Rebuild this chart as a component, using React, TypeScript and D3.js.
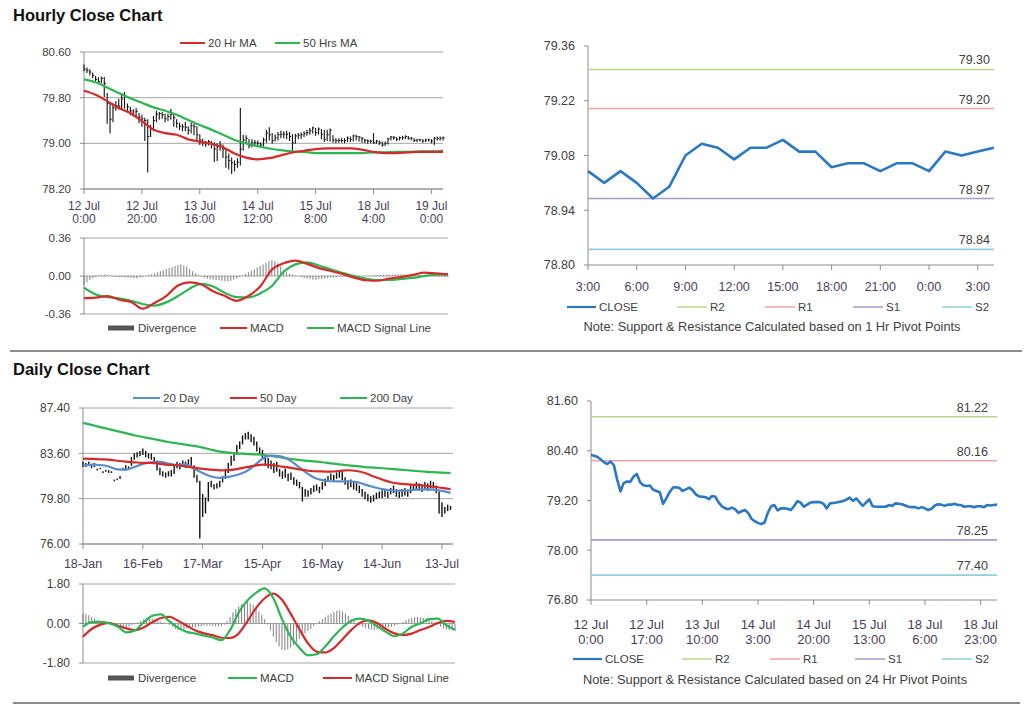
import React from "react";
import * as d3 from "d3";

// ===================== HOURLY DATA (index 0 = 12 Jul 0:00, one point per trading hour) =====================
const hourlyClose = [
  80.30, 80.28, 80.25, 80.19, 80.12, 80.08, 80.14, 80.05, 79.70, 79.42,
  79.62, 79.66, 79.65, 79.78, 79.84, 79.64, 79.57, 79.55, 79.56, 79.46,
  79.43, 79.40, 79.12, 79.25, 79.40, 79.51, 79.52, 79.50, 79.43, 79.47,
  79.51, 79.45, 79.35, 79.30, 79.29, 79.28, 79.23, 79.31, 79.29, 79.15,
  79.06, 79.01, 78.99, 79.03, 78.99, 78.90, 78.94, 78.97, 78.90, 78.76,
  78.70, 78.66, 78.63, 78.67, 78.90, 79.06, 79.09, 78.96, 79.01, 79.01,
  79.00, 78.97, 79.06, 79.18, 79.15, 79.05, 79.10, 79.15, 79.16, 79.16,
  79.16, 79.12, 79.01, 79.13, 79.14, 79.15, 79.17, 79.19, 79.22, 79.27,
  79.19, 79.25, 79.16, 79.07, 79.15, 79.23, 79.06, 79.05, 79.05, 79.05,
  79.05, 79.09, 79.07, 79.13, 79.12, 79.11, 79.08, 79.05, 79.04, 79.04,
  79.01, 79.04, 79.01, 78.97, 79.00, 79.08, 79.11, 79.10, 79.07, 79.10,
  79.10, 79.12, 79.09, 79.09, 79.05, 79.06, 79.06, 79.04, 79.06, 79.06,
  79.04, 79.09, 79.08, 79.09, 79.10,
];
const hourlyHigh = [
  80.38, 80.33, 80.30, 80.24, 80.18, 80.16, 80.17, 80.16, 79.88, 79.72,
  79.70, 79.74, 79.78, 79.88, 79.90, 79.70, 79.64, 79.60, 79.62, 79.53,
  79.50, 79.45, 79.42, 79.32, 79.48, 79.57, 79.55, 79.55, 79.52, 79.52,
  79.60, 79.52, 79.42, 79.36, 79.34, 79.38, 79.30, 79.36, 79.34, 79.30,
  79.16, 79.08, 79.04, 79.06, 79.04, 79.02, 79.00, 79.04, 78.98, 78.92,
  78.82, 78.75, 78.70, 78.74, 79.62, 79.15, 79.14, 79.08, 79.07, 79.06,
  79.05, 79.02, 79.10, 79.24, 79.28, 79.18, 79.16, 79.20, 79.22, 79.21,
  79.22, 79.20, 79.16, 79.17, 79.18, 79.19, 79.21, 79.24, 79.27, 79.29,
  79.27, 79.28, 79.25, 79.24, 79.24, 79.26, 79.14, 79.09, 79.09, 79.10,
  79.09, 79.12, 79.12, 79.15, 79.15, 79.13, 79.11, 79.08, 79.07, 79.06,
  79.18, 79.06, 79.05, 79.03, 79.03, 79.10, 79.13, 79.13, 79.11, 79.12,
  79.13, 79.14, 79.13, 79.11, 79.09, 79.08, 79.08, 79.07, 79.08, 79.08,
  79.07, 79.11, 79.12, 79.12, 79.12,
];
const hourlyLow = [
  80.27, 80.24, 80.20, 80.15, 80.10, 80.05, 80.06, 79.82, 79.35, 79.18,
  79.38, 79.58, 79.60, 79.62, 79.62, 79.55, 79.50, 79.48, 79.45, 79.36,
  79.30, 79.05, 78.50, 79.12, 79.22, 79.38, 79.42, 79.44, 79.38, 79.40,
  79.42, 79.30, 79.28, 79.24, 79.22, 79.22, 79.16, 79.18, 79.15, 79.05,
  78.98, 78.96, 78.95, 78.97, 78.92, 78.68, 78.70, 78.88, 78.75, 78.58,
  78.55, 78.47, 78.52, 78.58, 78.62, 78.88, 79.00, 78.92, 78.94, 78.96,
  78.95, 78.93, 78.96, 79.02, 79.06, 79.00, 79.04, 79.06, 79.10, 79.10,
  79.08, 79.05, 78.88, 79.00, 79.08, 79.09, 79.12, 79.14, 79.16, 79.18,
  79.14, 79.16, 79.08, 79.03, 79.05, 79.04, 79.02, 79.01, 79.02, 79.02,
  79.01, 79.03, 79.03, 79.04, 79.06, 79.04, 79.02, 79.01, 79.00, 79.01,
  79.00, 79.00, 78.98, 78.95, 78.96, 78.99, 79.06, 79.07, 79.05, 79.06,
  79.07, 79.08, 79.07, 79.06, 79.03, 79.03, 79.04, 79.02, 79.03, 79.04,
  79.01, 78.98, 79.06, 79.06, 79.06,
];
// moving averages and MACD lines, one value every HOURLY_STEP hours
const HOURLY_STEP = 4;
const hourlyMa20 = [
  79.92, 79.85, 79.74, 79.62, 79.53, 79.39, 79.24, 79.18, 79.15, 79.07,
  79.03, 78.99, 78.93, 78.82, 78.75, 78.72, 78.74, 78.79, 78.84, 78.87,
  78.90, 78.91, 78.91, 78.91, 78.89, 78.85, 78.83, 78.83, 78.84, 78.85,
  78.85, 78.85,
];
const hourlyMa50 = [
  80.12, 80.07, 79.98, 79.88, 79.79, 79.71, 79.63, 79.57, 79.50, 79.41,
  79.32, 79.24, 79.15, 79.06, 79.00, 78.95, 78.91, 78.88, 78.86, 78.85,
  78.83, 78.83, 78.83, 78.83, 78.83, 78.84, 78.84, 78.85, 78.85, 78.86,
  78.86, 78.87,
];
const hourlyMacd = [
  -0.21, -0.205, -0.19, -0.225, -0.245, -0.31, -0.255, -0.19, -0.09, -0.06,
  -0.08, -0.145, -0.19, -0.235, -0.19, -0.10, 0.06, 0.12, 0.145, 0.115,
  0.075, 0.048, 0.02, -0.015, -0.04, -0.045, -0.024, -0.01, 0.01, 0.032,
  0.024, 0.016,
];
const hourlySignal = [
  -0.11, -0.175, -0.20, -0.212, -0.235, -0.265, -0.28, -0.25, -0.19, -0.12,
  -0.074, -0.10, -0.16, -0.20, -0.203, -0.165, -0.095, 0.04, 0.11, 0.13,
  0.10, 0.064, 0.03, 0.0, -0.025, -0.038, -0.038, -0.028, -0.018, 0.002,
  0.012, 0.016,
];
const hourlyDivergence = [
  -0.085, -0.06, -0.04, -0.025, -0.012, 0.005, 0.01, 0.012, 0.008, 0.004,
  -0.005, -0.01, -0.012, -0.01, -0.014, -0.015, -0.018, -0.02, -0.022, -0.015,
  -0.008, 0.0, 0.008, 0.015, 0.025, 0.035, 0.045, 0.055, 0.065, 0.075,
  0.085, 0.095, 0.105, 0.11, 0.1, 0.085, 0.065, 0.045, 0.025, 0.01,
  -0.005, -0.015, -0.025, -0.03, -0.035, -0.038, -0.04, -0.045, -0.05, -0.05,
  -0.045, -0.035, -0.025, -0.01, 0.005, 0.02, 0.035, 0.05, 0.065, 0.08,
  0.095, 0.11, 0.125, 0.14, 0.15, 0.14, 0.12, 0.09, 0.06, 0.035,
  0.02, 0.01, 0.005, 0.0, -0.01, -0.02, -0.025, -0.03, -0.035, -0.035,
  -0.03, -0.03, -0.025, -0.02, -0.015, -0.012, -0.01, -0.008, -0.006, -0.005,
  -0.005, -0.004, -0.003, -0.003, -0.002, -0.002, 0.0, 0.002, 0.004, 0.006,
  0.008, 0.01, 0.012, 0.012, 0.012, 0.014, 0.015, 0.016, 0.016, 0.015,
  0.014, 0.013, 0.012, 0.01, 0.008, 0.006, 0.004, 0.002, 0.0, -0.002,
  -0.004, -0.006, -0.008, -0.01, -0.012,
];
const hourlyTickStep = 20;
const hourlyTickLabels = [
  ["12 Jul", "0:00"], ["12 Jul", "20:00"], ["13 Jul", "16:00"], ["14 Jul", "12:00"],
  ["15 Jul", "8:00"], ["18 Jul", "4:00"], ["19 Jul", "0:00"],
];
const hourlyPriceTicks = [78.2, 79.0, 79.8, 80.6];
const hourlyMacdTicks = [-0.36, 0, 0.36];

// last-day (1 hr pivot) view: hours 3:00 .. 3:00
const lastDayStart = 99;
const lastDayEnd = 124;
const lastDayTickStep = 3;
const lastDayTickLabels = ["3:00", "6:00", "9:00", "12:00", "15:00", "18:00", "21:00", "0:00", "3:00"];
const lastDayTicks = [78.8, 78.94, 79.08, 79.22, 79.36];
const pivotNames = ["R2", "R1", "S1", "S2"];
const hourPivotValues = [79.30, 79.20, 78.97, 78.84];

// 24 hr pivot view of the hourly closes
const weekTickStep = 17;
const weekTickLabels = [
  ["12 Jul", "0:00"], ["12 Jul", "17:00"], ["13 Jul", "10:00"], ["14 Jul", "3:00"],
  ["14 Jul", "20:00"], ["15 Jul", "13:00"], ["18 Jul", "6:00"], ["18 Jul", "23:00"],
];
const weekTicks = [76.8, 78.0, 79.2, 80.4, 81.6];
const dayPivotValues = [81.22, 80.16, 78.25, 77.40];

// ===================== DAILY DATA (index 0 = 18-Jan, one point per trading day) =====================
const dailyHigh = [
  82.9, 82.8, 82.9, 82.7, 82.8, 82.3, 82.4, 82.1, 82.2, 82.2,
  82.1, 81.4, 81.5, 81.7, 82.4, 82.6, 82.5, 83.3, 83.6, 83.7,
  83.8, 84.0, 83.8, 83.6, 83.6, 83.3, 83.0, 82.4, 82.1, 82.0,
  82.1, 82.2, 82.6, 82.9, 82.8, 83.0, 82.9, 83.1, 83.3, 82.6,
  81.8, 81.3, 80.2, 79.9, 81.2, 81.3, 81.0, 81.1, 81.3, 81.7,
  82.3, 82.8, 83.4, 83.6, 84.3, 84.6, 85.1, 85.3, 85.4, 85.2,
  85.0, 84.6, 84.1, 83.9, 83.4, 83.2, 83.0, 82.8, 82.9, 82.3,
  82.1, 82.3, 81.9, 82.0, 81.6, 81.4, 81.2, 80.8, 80.6, 80.5,
  80.7, 80.9, 81.0, 80.8, 81.2, 81.5, 81.7, 81.9, 81.8, 82.0,
  82.2, 82.1, 81.6, 81.3, 81.4, 81.2, 81.1, 80.9, 80.6, 80.4,
  80.2, 80.0, 80.1, 80.3, 80.4, 80.5, 80.6, 80.4, 80.7, 80.9,
  80.6, 80.4, 80.6, 80.7, 80.5, 80.9, 81.0, 81.2, 81.1, 81.0,
  81.2, 81.1, 81.3, 81.2, 80.9, 80.4, 79.5, 79.1, 79.3, 79.2,
];
const dailyLow = [
  82.5, 82.5, 82.6, 82.4, 82.5, 82.2, 82.3, 82.0, 82.1, 82.0,
  82.0, 81.3, 81.4, 81.5, 82.2, 82.3, 82.3, 82.6, 83.1, 83.3,
  83.4, 83.5, 83.3, 83.2, 83.1, 82.9, 82.2, 81.8, 81.7, 81.6,
  81.7, 81.7, 81.9, 82.4, 82.3, 82.5, 82.4, 82.7, 82.6, 81.6,
  81.2, 76.5, 78.3, 78.6, 79.6, 80.8, 80.6, 80.7, 80.8, 81.2,
  81.5, 82.0, 82.6, 83.0, 83.5, 84.0, 84.4, 84.8, 84.8, 84.6,
  84.3, 83.8, 83.5, 83.2, 82.6, 82.4, 82.3, 82.0, 82.1, 81.7,
  81.5, 81.6, 81.3, 81.4, 81.0, 80.9, 80.7, 79.6, 80.0, 80.0,
  80.2, 80.4, 80.5, 80.3, 80.6, 80.9, 81.3, 81.4, 81.3, 81.5,
  81.6, 81.4, 81.0, 80.6, 80.8, 80.6, 80.5, 80.3, 80.0, 79.8,
  79.6, 79.5, 79.6, 79.8, 79.9, 79.9, 80.0, 79.9, 80.2, 80.3,
  80.0, 79.9, 80.0, 80.1, 80.0, 80.3, 80.5, 80.6, 80.5, 80.4,
  80.6, 80.5, 80.7, 80.7, 80.3, 78.6, 78.3, 78.6, 78.8, 78.9,
];
// moving averages and MACD lines, one value every DAILY_STEP days
const DAILY_STEP = 3;
const dailyMa20 = [
  82.60, 82.65, 82.62, 82.50, 82.25, 82.22, 82.45, 82.72, 82.85, 82.88,
  82.75, 82.62, 82.70, 82.30, 81.95, 81.66, 81.55, 81.62, 81.78, 82.05,
  82.55, 83.15, 83.40, 83.36, 83.10, 82.60, 82.05, 81.58, 81.35, 81.26,
  81.25, 81.26, 81.20, 80.98, 80.78, 80.60, 80.50, 80.48, 80.50, 80.55,
  80.58, 80.55, 80.45, 80.28,
];
const dailyMa50 = [
  83.15, 83.13, 83.10, 83.08, 82.98, 82.90, 82.85, 82.80, 82.80, 82.72,
  82.64, 82.60, 82.50, 82.40, 82.30, 82.24, 82.17, 82.18, 82.28, 82.42,
  82.55, 82.65, 82.62, 82.52, 82.42, 82.30, 82.18, 82.10, 82.08, 82.06,
  82.12, 82.18, 82.12, 81.95, 81.65, 81.40, 81.18, 81.06, 81.00, 80.95,
  80.88, 80.80, 80.70, 80.60,
];
const dailyMa200 = [
  86.15, 85.98, 85.80, 85.63, 85.46, 85.29, 85.12, 84.97, 84.83, 84.69,
  84.55, 84.44, 84.33, 84.22, 84.08, 83.91, 83.74, 83.66, 83.60, 83.56,
  83.52, 83.48, 83.38, 83.28, 83.17, 83.07, 82.99, 82.92, 82.85, 82.76,
  82.68, 82.60, 82.52, 82.45, 82.40, 82.35, 82.30, 82.24, 82.18, 82.12,
  82.06, 82.02, 81.98, 81.95,
];
const dailyMacd = [
  -0.15, 0.06, 0.07, 0.01, -0.14, -0.40, -0.32, 0.05, 0.35, 0.42,
  0.10, -0.20, -0.38, -0.46, -0.55, -0.64, -0.76, -0.30, 0.50, 1.05,
  1.40, 1.60, 1.15, 0.20, -0.60, -1.10, -1.45, -1.40, -1.05, -0.58,
  -0.18, 0.12, 0.22, 0.12, -0.12, -0.38, -0.58, -0.45, -0.15, 0.00,
  0.20, 0.22, -0.08, -0.28,
];
const dailySignal = [
  -0.60, -0.25, -0.05, 0.03, -0.10, -0.22, -0.30, -0.18, 0.05, 0.25,
  0.30, 0.12, -0.10, -0.32, -0.45, -0.53, -0.65, -0.66, -0.45, 0.10,
  0.70, 1.15, 1.36, 1.08, 0.45, -0.25, -0.90, -1.28, -1.32, -1.12,
  -0.72, -0.30, 0.03, 0.14, 0.02, -0.25, -0.45, -0.53, -0.46, -0.30,
  -0.16, 0.02, 0.12, 0.07,
];
const dailyDivergence = [
  0.45, 0.42, 0.38, 0.30, 0.22, 0.15, 0.10, 0.05, 0.02, 0.00,
  -0.05, -0.10, -0.15, -0.20, -0.22, -0.20, -0.15, -0.08, -0.02, 0.05,
  0.12, 0.18, 0.22, 0.24, 0.22, 0.18, 0.12, 0.08, 0.04, 0.00,
  -0.06, -0.15, -0.25, -0.30, -0.28, -0.26, -0.22, -0.20, -0.18, -0.16,
  -0.14, -0.12, -0.10, -0.10, -0.10, -0.12, -0.12, -0.14, -0.12, -0.05,
  0.10, 0.30, 0.50, 0.65, 0.78, 0.88, 0.95, 0.98, 0.92, 0.85,
  0.70, 0.55, 0.40, 0.20, -0.05, -0.30, -0.60, -0.85, -1.05, -1.20,
  -1.22, -1.18, -1.10, -0.98, -0.85, -0.70, -0.55, -0.45, -0.35, -0.25,
  -0.12, 0.00, 0.10, 0.20, 0.30, 0.38, 0.45, 0.52, 0.58, 0.60,
  0.55, 0.45, 0.35, 0.22, 0.10, 0.00, -0.08, -0.15, -0.20, -0.25,
  -0.28, -0.30, -0.28, -0.25, -0.22, -0.20, -0.18, -0.15, -0.10, -0.05,
  0.00, 0.08, 0.15, 0.22, 0.26, 0.28, 0.30, 0.28, 0.25, 0.22,
  0.18, 0.12, 0.05, -0.05, -0.15, -0.22, -0.28, -0.30, -0.32, -0.34,
];
const dailyTickStep = 21;
const dailyTickLabels = ["18-Jan", "16-Feb", "17-Mar", "15-Apr", "16-May", "14-Jun", "13-Jul"];
const dailyPriceTicks = [76.0, 79.8, 83.6, 87.4];
const dailyMacdTicks = [-1.8, 0, 1.8];

// ===================== STYLE =====================
const FONT = "'Liberation Sans', Arial, Helvetica, sans-serif";
const GRID = "#a6a6a6";
const AXIS = "#8c8c8c";
const TEXT = "#404040";
const XTEXT = "#4a3d5c";
const RED = "#d42a2a";
const GREEN = "#2db553";
const BLUE = "#5a8ccc";
const CLOSE_BLUE = "#2a78c2";
const PIVOT_COLORS = ["#b9d48e", "#eba3a3", "#a898cc", "#8fcfdf"];
const DIV_GRAY = "#6f6f6f";

type Sc = d3.ScaleLinear<number, number>;

function YAxis({ ticks, y, left, right, grid, fs = 11.5 }: { ticks: number[]; y: Sc; left: number; right: number; grid: boolean; fs?: number }) {
  const lo = d3.min(ticks) as number;
  const hi = d3.max(ticks) as number;
  return (
    <g>
      {ticks.map((t, k) => (
        <g key={k}>
          {grid && <line x1={left} x2={right} y1={y(t)} y2={y(t)} stroke={GRID} strokeWidth={1} />}
          <line x1={left - 4} x2={left} y1={y(t)} y2={y(t)} stroke={AXIS} strokeWidth={1} />
          <text x={left - 13} y={y(t)} dy="0.35em" textAnchor="end" fontSize={fs} fill={TEXT}>
            {t.toFixed(2)}
          </text>
        </g>
      ))}
      <line x1={left} x2={left} y1={y(hi)} y2={y(lo)} stroke={AXIS} strokeWidth={1} />
    </g>
  );
}

function XAxis({ x, y0, left, right, step, labels, lineGap = 14, first = 14, fs = 11.5 }: {
  x: Sc; y0: number; left: number; right: number; step: number; labels: (string | string[])[]; lineGap?: number; first?: number; fs?: number;
}) {
  return (
    <g>
      <line x1={left} x2={right} y1={y0} y2={y0} stroke={AXIS} strokeWidth={1} />
      {labels.map((lab, k) => {
        const xx = x(k * step);
        const lines = Array.isArray(lab) ? lab : [lab];
        return (
          <g key={k}>
            <line x1={xx} x2={xx} y1={y0} y2={y0 + 5} stroke={AXIS} strokeWidth={1} />
            {lines.map((s, j) => (
              <text key={j} x={xx} y={y0 + first + j * lineGap} dy="0.35em" textAnchor="middle" fontSize={fs} fill={XTEXT}>
                {s}
              </text>
            ))}
          </g>
        );
      })}
    </g>
  );
}

function sampledLine(vals: number[], step: number, x: Sc, y: Sc) {
  return (
    d3
      .line<number>()
      .x((_, k) => x(k * step))
      .y((v) => y(v))
      .curve(d3.curveMonotoneX)(vals) || ""
  );
}

function LegendLine({ x, y, color, label, width = 27, sw = 2 }: { x: number; y: number; color: string; label: string; width?: number; sw?: number }) {
  return (
    <g>
      <line x1={x} x2={x + width} y1={y} y2={y} stroke={color} strokeWidth={sw} />
      <text x={x + width + 3} y={y} dy="0.35em" fontSize={11.5} fill={TEXT}>
        {label}
      </text>
    </g>
  );
}

function LegendBox({ x, y, label }: { x: number; y: number; label: string }) {
  return (
    <g>
      <rect x={x} y={y - 2.5} width={26} height={5} fill="#555" />
      <text x={x + 30} y={y} dy="0.35em" fontSize={11.5} fill={TEXT}>
        {label}
      </text>
    </g>
  );
}

function HLBars({ high, low, close, x, y, sw }: { high: number[]; low: number[]; close?: number[]; x: Sc; y: Sc; sw: number }) {
  return (
    <g>
      {high.map((h, i) => (
        <g key={i}>
          <line x1={x(i)} x2={x(i)} y1={y(h)} y2={y(low[i]) + 0.5} stroke="#111" strokeWidth={sw} />
          {close && <line x1={x(i)} x2={x(i) + 1.6} y1={y(close[i])} y2={y(close[i])} stroke="#111" strokeWidth={1} />}
        </g>
      ))}
    </g>
  );
}

function DivBars({ vals, x, y }: { vals: number[]; x: Sc; y: Sc }) {
  return (
    <g>
      {vals.map((v, i) => (
        <line key={i} x1={x(i)} x2={x(i)} y1={y(0)} y2={y(v)} stroke={DIV_GRAY} strokeWidth={0.9} />
      ))}
    </g>
  );
}

function PivotChart({ close, left, right, top, bottom, ticks, pivots, tickStep, tickLabels, labelRight, legendY, noteY, legendXs, note, xFirst, xGap, xfs }: {
  close: number[]; left: number; right: number; top: number; bottom: number; ticks: number[]; pivots: number[];
  tickStep: number; tickLabels: (string | string[])[]; labelRight: number; legendY: number; noteY: number; legendXs: number[]; note: string;
  xFirst: number; xGap: number; xfs: number;
}) {
  const x = d3.scaleLinear().domain([0, close.length - 1]).range([left, right]);
  const y = d3.scaleLinear().domain([d3.min(ticks) as number, d3.max(ticks) as number]).range([bottom, top]);
  const path = d3.line<number>().x((_, i) => x(i)).y((v) => y(v))(close) || "";
  return (
    <g>
      <YAxis ticks={ticks} y={y} left={left} right={right} grid={false} fs={12.5} />
      <XAxis x={x} y0={bottom} left={left} right={right} step={tickStep} labels={tickLabels} first={xFirst} lineGap={xGap} fs={xfs} />
      {pivots.map((p, k) => (
        <g key={k}>
          <line x1={left} x2={right} y1={y(p)} y2={y(p)} stroke={PIVOT_COLORS[k]} strokeWidth={1.6} />
          <text x={labelRight} y={y(p) - 5} textAnchor="end" fontSize={12.5} fill={TEXT}>
            {p.toFixed(2)}
          </text>
        </g>
      ))}
      <path d={path} fill="none" stroke={CLOSE_BLUE} strokeWidth={2.6} strokeLinejoin="round" />
      <LegendLine x={legendXs[0]} y={legendY} color={CLOSE_BLUE} label="CLOSE" width={29} sw={2.2} />
      {pivotNames.map((n, k) => (
        <LegendLine key={n} x={legendXs[k + 1]} y={legendY} color={PIVOT_COLORS[k]} label={n} width={30} sw={1.5} />
      ))}
      <text x={(left + right) / 2 - 19} y={noteY} dy="0.35em" textAnchor="middle" fontSize={12.8} fill={TEXT}>
        {note}
      </text>
    </g>
  );
}

export default function App() {
  // ---------- Hourly price panel
  const hx = d3.scaleLinear().domain([0, hourlyClose.length - 1]).range([84, 443]);
  const hy = d3.scaleLinear().domain([78.2, 80.6]).range([189, 52]);
  // ---------- Hourly MACD panel
  const hmx = d3.scaleLinear().domain([0, hourlyDivergence.length - 1]).range([84, 448]);
  const hmy = d3.scaleLinear().domain([-0.36, 0.36]).range([314, 238]);
  // ---------- Daily price panel
  const dx = d3.scaleLinear().domain([0, dailyHigh.length - 1]).range([83, 450.5]);
  const dy = d3.scaleLinear().domain([76.0, 87.4]).range([544, 408]);
  // ---------- Daily MACD panel
  const dmx = d3.scaleLinear().domain([0, dailyDivergence.length - 1]).range([83, 455]);
  const dmy = d3.scaleLinear().domain([-1.8, 1.8]).range([663, 584]);

  return (
    <svg
      width={1024}
      height={705}
      viewBox="0 0 1024 705"
      style={{ position: "absolute", left: 0, top: 0, background: "#fff" }}
      fontFamily={FONT}
    >
      <rect x={0} y={0} width={1024} height={705} fill="#fff" />

      {/* ================= HOURLY ================= */}
      <text x={13} y={21} fontSize={16.5} fontWeight="bold" fill="#111">Hourly Close Chart</text>

      <YAxis ticks={hourlyPriceTicks} y={hy} left={84} right={443} grid />
      <XAxis x={hx} y0={189} left={84} right={443} step={hourlyTickStep} labels={hourlyTickLabels} first={17} lineGap={13} fs={12} />
      <HLBars high={hourlyHigh} low={hourlyLow} close={hourlyClose} x={hx} y={hy} sw={1.1} />
      <path d={sampledLine(hourlyMa50, HOURLY_STEP, hx, hy)} fill="none" stroke={GREEN} strokeWidth={2.2} />
      <path d={sampledLine(hourlyMa20, HOURLY_STEP, hx, hy)} fill="none" stroke={RED} strokeWidth={2.2} />
      <LegendLine x={180} y={43} color={RED} label="20 Hr MA" width={25} />
      <LegendLine x={275} y={43} color={GREEN} label="50 Hrs MA" width={25} />

      <YAxis ticks={hourlyMacdTicks} y={hmy} left={84} right={448} grid />
      <DivBars vals={hourlyDivergence} x={hmx} y={hmy} />
      <path d={sampledLine(hourlySignal, HOURLY_STEP, hmx, hmy)} fill="none" stroke={GREEN} strokeWidth={2.2} />
      <path d={sampledLine(hourlyMacd, HOURLY_STEP, hmx, hmy)} fill="none" stroke={RED} strokeWidth={2.2} />
      <LegendBox x={108} y={328} label="Divergence" />
      <LegendLine x={220} y={328} color={RED} label="MACD" width={27} />
      <LegendLine x={307} y={328} color={GREEN} label="MACD Signal Line" width={27} />

      <PivotChart
        close={hourlyClose.slice(lastDayStart, lastDayEnd + 1)}
        left={588} right={994} top={46} bottom={265}
        ticks={lastDayTicks} pivots={hourPivotValues}
        tickStep={lastDayTickStep} tickLabels={lastDayTickLabels}
        labelRight={990} legendY={307} noteY={327}
        legendXs={[567, 677, 765, 853, 942]}
        note="Note: Support & Resistance Calculated based on 1 Hr Pivot Points"
        xFirst={22} xGap={14} xfs={12.5}
      />

      <line x1={10} x2={1022} y1={351} y2={351} stroke="#8a8a8a" strokeWidth={2} />

      {/* ================= DAILY ================= */}
      <text x={13} y={375} fontSize={16.5} fontWeight="bold" fill="#111">Daily Close Chart</text>

      <YAxis ticks={dailyPriceTicks} y={dy} left={83} right={453} grid fs={12} />
      <XAxis x={dx} y0={544} left={83} right={453} step={dailyTickStep} labels={dailyTickLabels} first={20} fs={12.5} />
      <HLBars high={dailyHigh} low={dailyLow} x={dx} y={dy} sw={1.4} />
      <path d={sampledLine(dailyMa200, DAILY_STEP, dx, dy)} fill="none" stroke={GREEN} strokeWidth={2.2} />
      <path d={sampledLine(dailyMa20, DAILY_STEP, dx, dy)} fill="none" stroke={BLUE} strokeWidth={2.2} />
      <path d={sampledLine(dailyMa50, DAILY_STEP, dx, dy)} fill="none" stroke={RED} strokeWidth={2.2} />
      <LegendLine x={133} y={398} color={BLUE} label="20 Day" width={27} />
      <LegendLine x={230} y={398} color={RED} label="50 Day" width={27} />
      <LegendLine x={340} y={398} color={GREEN} label="200 Day" width={27} />

      <YAxis ticks={dailyMacdTicks} y={dmy} left={83} right={455} grid fs={12} />
      <DivBars vals={dailyDivergence} x={dmx} y={dmy} />
      <path d={sampledLine(dailySignal, DAILY_STEP, dmx, dmy)} fill="none" stroke={RED} strokeWidth={2.2} />
      <path d={sampledLine(dailyMacd, DAILY_STEP, dmx, dmy)} fill="none" stroke={GREEN} strokeWidth={2.2} />
      <LegendBox x={108} y={678} label="Divergence" />
      <LegendLine x={228} y={678} color={GREEN} label="MACD" width={29} />
      <LegendLine x={323} y={678} color={RED} label="MACD Signal Line" width={29} />

      <PivotChart
        close={hourlyClose}
        left={591} right={997} top={401} bottom={600}
        ticks={weekTicks} pivots={dayPivotValues}
        tickStep={weekTickStep} tickLabels={weekTickLabels}
        labelRight={988} legendY={659} noteY={680}
        legendXs={[573, 682, 770, 855, 942]}
        note="Note: Support & Resistance Calculated based on 24 Hr Pivot Points"
        xFirst={24} xGap={15} xfs={13}
      />

      <line x1={13} x2={1020} y1={703} y2={703} stroke="#8a8a8a" strokeWidth={2} />
    </svg>
  );
}
